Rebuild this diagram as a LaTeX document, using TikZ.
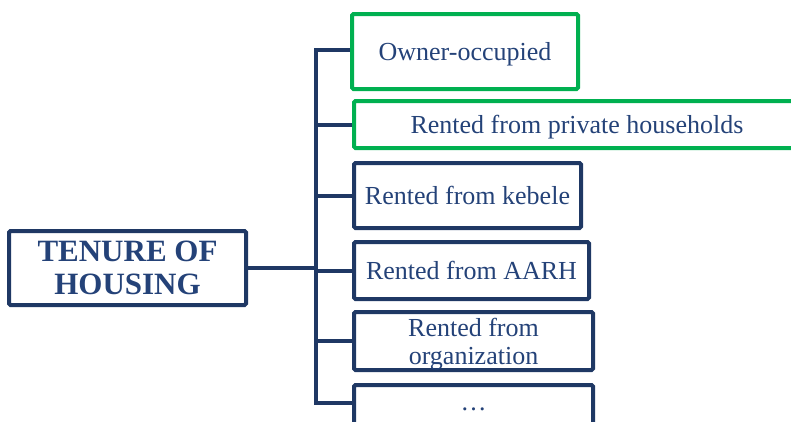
\documentclass[tikz,border=0pt]{standalone}
\usepackage{fontspec}
\setmainfont{Liberation Serif}
\definecolor{navy}{RGB}{31,56,100}
\definecolor{navytext}{RGB}{36,66,120}
\definecolor{leafgreen}{RGB}{0,176,80}
\begin{document}
\begin{tikzpicture}[x=1pt,y=-1pt,
  box/.style={draw=navy,line width=4pt,rounded corners=1.5pt,rectangle,inner sep=0pt,
    text=navytext,align=center,text depth=0pt,font=\fontsize{26}{28}\selectfont},
  greenbox/.style={box,draw=leafgreen},
  rootbox/.style={box,font=\fontsize{31}{33}\selectfont\bfseries},
  link/.style={draw=navy,line width=4pt}]
\useasboundingbox (0,0) rectangle (791,421);
\clip (0,0) rectangle (791,421);
% root
\node[rootbox,minimum width=237pt,minimum height=74pt] (tenure) at (127.5,268) {TENURE OF\\HOUSING};
% categories
\node[greenbox,minimum width=226pt,minimum height=75pt] (owner) at (465,51.5) {Owner-occupied};
\node[greenbox,minimum width=446pt,minimum height=47pt] (private) at (577,124.5) {Rented from private households};
\node[box,minimum width=227pt,minimum height=65pt] (kebele) at (467.5,195.5) {Rented from kebele};
\node[box,minimum width=235pt,minimum height=57pt] (aarh) at (471.5,270.5) {Rented from AARH};
\node[box,minimum width=239pt,minimum height=58pt] (org) at (473.5,341) {Rented from\\organization};
\node[box,minimum width=239pt,minimum height=56pt] (dots) at (473.5,413) {};
\node[text=navytext,font=\fontsize{26}{28}\selectfont] (dotstext) at (473.5,409) {\dots};
% trunk and branches
\coordinate (trunktop) at (316,50);
\coordinate (trunkbot) at (316,403);
\coordinate (dotsin) at (354,403);
\draw[link] (owner.west |- trunktop) -- (trunktop) -- (trunkbot) -- (dotsin);
\draw[link] (private.west) -- (private.west -| trunktop);
\draw[link] (kebele.west) -- (kebele.west -| trunktop);
\draw[link] (aarh.west) -- (aarh.west -| trunktop);
\draw[link] (org.west) -- (org.west -| trunktop);
\draw[link] (tenure.east) -- (tenure.east -| trunktop);
\end{tikzpicture}
\end{document}
